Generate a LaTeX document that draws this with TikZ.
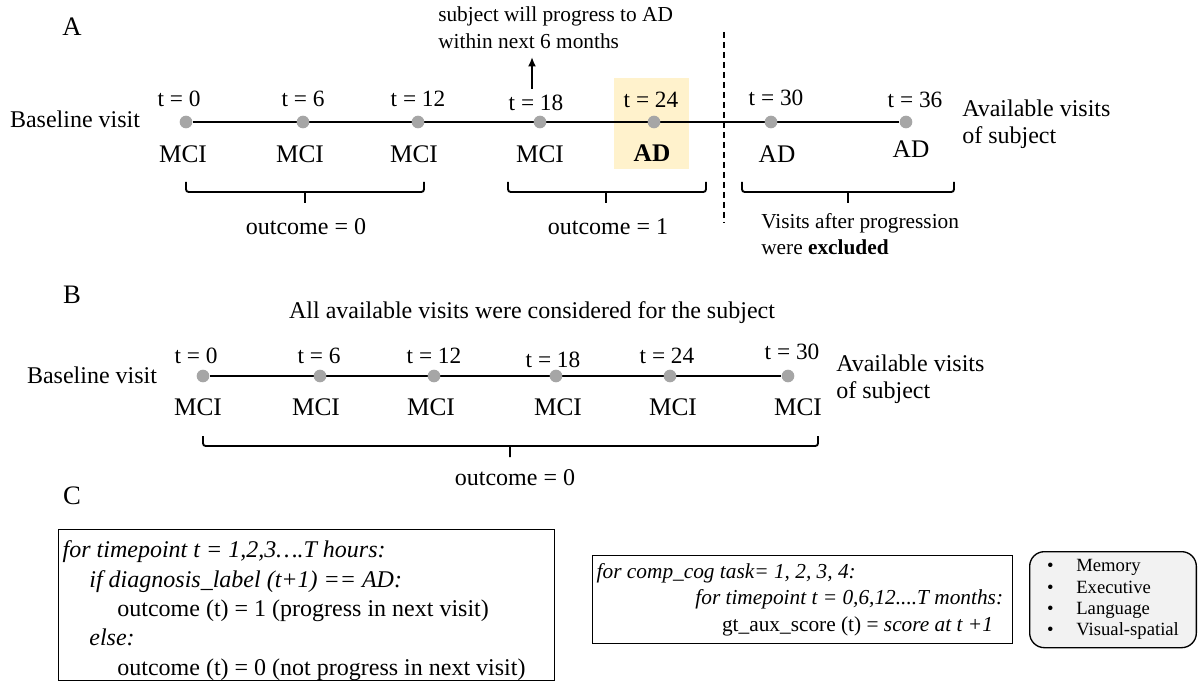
\documentclass[tikz,border=0pt]{standalone}
\usepackage{fontspec}
\setmainfont{Liberation Serif}
\usetikzlibrary{backgrounds,arrows.meta}
\definecolor{dotgray}{HTML}{A6A6A6}
\definecolor{hilite}{HTML}{FFF2CC}
\definecolor{boxgray}{HTML}{F2F2F2}

\begin{document}
\begin{tikzpicture}[x=0.75pt,y=-0.75pt,
    dot/.style={circle,fill=dotgray,inner sep=0pt,minimum size=9.5pt},
    tlab/.style={font=\fontsize{17.5}{20}\selectfont,inner sep=0pt},
    dlab/.style={font=\fontsize{19}{22}\selectfont,inner sep=0pt},
    txt/.style={font=\fontsize{18}{20.5}\selectfont,inner sep=0pt,align=left},
    note/.style={font=\fontsize{16}{20}\selectfont,inner sep=0pt,align=left},
    panel/.style={font=\fontsize{20}{24}\selectfont,inner sep=0pt},
    brace/.style={line width=1.4pt,rounded corners=2pt},
    timeline/.style={line width=1.4pt},
    codebox/.style={draw,line width=1.1pt,inner xsep=3pt,inner ysep=0pt,align=flush left}]
  \useasboundingbox (0,0) rectangle (1200,681);

  % ---------- A ----------
  \node[panel] (labA) at (72,27) {A};
  \foreach \i/\x/\tx/\ty/\t/\dx/\dy/\d in {0/186/179/99/0/183/154/MCI,
      1/303/303/99/6/300/154/MCI, 2/418/418/99/12/414/154/MCI,
      3/540/536/103/18/540/154/MCI, 4/654/651/100/24/652/153/{\textbf{AD}},
      5/771/776/98/30/777/154/AD, 6/906/915/100/36/911/149/AD}{% one visit
    \node[dot] (a\i) at (\x,122) {};
    \node[tlab] (ta\i) at (\tx,\ty) {t = \t};
    \node[dlab] (da\i) at (\dx,\dy) {\d};
  }
  \begin{scope}[on background layer]
    \fill[hilite] (614,78) rectangle (689,169);
    \draw[timeline] (a0) -- (a6);
  \end{scope}
  \node[txt] (baseA) at (75,119) {Baseline visit};
  \node[txt,anchor=west] (availA) at (962,124) {Available visits\\of subject};
  \node[note,anchor=west] (prog) at (438,28) {subject will progress to AD\\within next 6 months};
  \coordinate (arrbot) at (532,89);
  \coordinate (arrtip) at (532,57);
  \draw[line width=1.5pt,-{Latex[length=7pt,width=6pt]}] (arrbot) -- (arrtip);
  \draw[line width=1.1pt,dash pattern=on 4.5pt off 3pt] (724,32) -- (724,223);
  \node[txt] (outA0) at (306,227) {outcome = 0};
  \node[txt] (outA1) at (608,227) {outcome = 1};
  \node[note,anchor=west] (excl) at (761,234) {Visits after progression\\were \textbf{excluded}};

  % brackets under the visits
  \foreach \l/\m/\r/\y in {186/305/424/192, 508/606/706/192, 742/848/954/192, 203/510/818/446}
    \draw[brace] (\l,\y-10) -- (\l,\y) -- (\r,\y) -- (\r,\y-10) (\m,\y) -- (\m,\y+11);

  % ---------- B ----------
  \node[panel] (labB) at (72,295) {B};
  \node[txt] (allvis) at (532,313) {All available visits were considered for the subject};
  \foreach \i/\x/\tx/\ty/\t/\dx in {0/203/196/356/0/198, 1/320/319/356/6/316,
      2/434/434/356/12/431, 3/556/553/360/18/558, 4/670/667/356/24/673,
      5/788/792/352/30/798}{% one visit
    \node[dot] (b\i) at (\x,376) {};
    \node[tlab] (tb\i) at (\tx,\ty) {t = \t};
    \node[dlab] (db\i) at (\dx,407) {MCI};
  }
  \begin{scope}[on background layer]
    \draw[timeline] (b0) -- (b5);
  \end{scope}
  \node[txt] (baseB) at (92,375) {Baseline visit};
  \node[txt,anchor=west] (availB) at (836,379) {Available visits\\of subject};
  \node[txt] (outB) at (515,478) {outcome = 0};

  % ---------- C ----------
  \node[panel] (labC) at (72,496) {C};
  \node[codebox,anchor=north west,text width=366pt,
        font=\fontsize{18}{22}\selectfont] (algo) at (58,529)
    {\rule{0pt}{21pt}\textit{for timepoint t = 1,2,3….T hours:}\\
     \hspace*{20pt}\textit{if diagnosis\_label (t+1) == AD:}\\
     \hspace*{41pt}outcome (t) = 1 (progress in next visit)\\
     \hspace*{20pt}\textit{else:}\\
     \hspace*{41pt}outcome (t) = 0 (not progress in next visit)\rule[-4.5pt]{0pt}{4.5pt}};
  \node[codebox,anchor=north west,minimum height=66pt,text width=309pt,
        font=\fontsize{16}{20}\selectfont] (aux) at (592,555)
    {\textit{for comp\_cog task= 1, 2, 3, 4:}\\
     \hspace*{74pt}\textit{for timepoint t = 0,6,12....T months:}\\
     \hspace*{94pt}gt\_aux\_score (t) = \textit{score at t +1}};
  \node[draw,fill=boxgray,line width=1pt,rounded corners=11pt,anchor=north west,
        minimum width=125pt,minimum height=72pt,inner xsep=12pt,align=left,
        font=\fontsize{14}{16}\selectfont] (tasks) at (1029,551)
    {•\hspace{17pt}Memory\\ •\hspace{17pt}Executive\\ •\hspace{17pt}Language\\ •\hspace{17pt}Visual-spatial};
\end{tikzpicture}
\end{document}
